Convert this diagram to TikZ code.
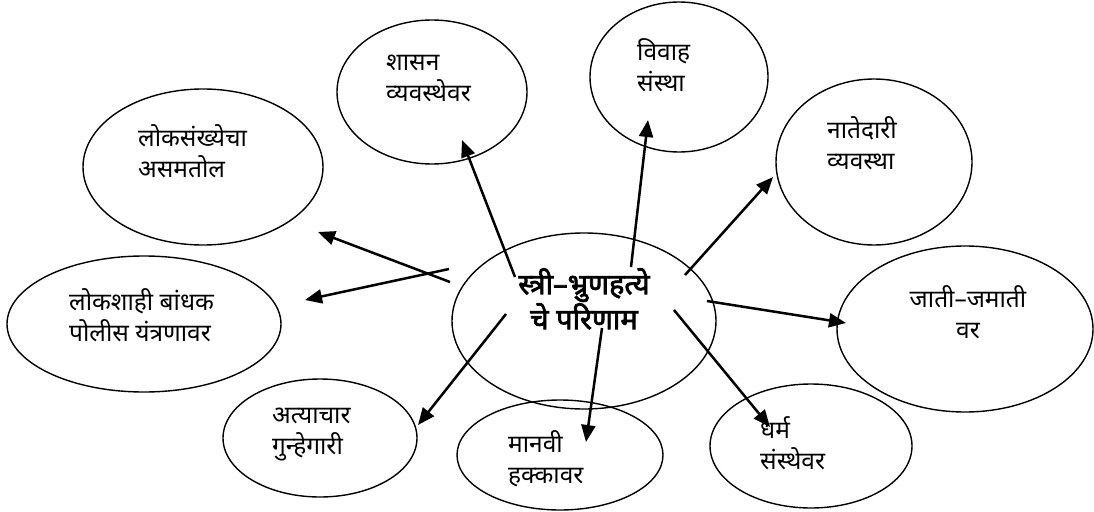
\documentclass[tikz,border=0pt]{standalone}
\usepackage{fontspec}
\newfontfamily\dev[Script=Devanagari]{Noto Sans}
\newfontfamily\devb[Script=Devanagari,FakeBold=2.5]{Noto Sans}
\usetikzlibrary{shapes.geometric,arrows.meta}
\tikzset{
  ell/.style={draw, ellipse, line width=1.4pt, inner sep=0pt},
  lbl/.style={anchor=north west, align=left, inner sep=0pt, font=\dev\fontsize{24.5}{31}\selectfont},
  lblc/.style={anchor=north, align=center, inner sep=0pt, font=\dev\fontsize{24.5}{31}\selectfont},
  ctr/.style={anchor=north, align=center, inner sep=0pt, font=\devb\fontsize{29}{35}\selectfont},
  arr/.style={line width=2.5pt, -{Triangle[length=17pt,width=14pt]}}
}
\begin{document}
\begin{tikzpicture}[x=1pt,y=-1pt]
\useasboundingbox (0,0) rectangle (1094,511);
% ellipses
\node[ell, minimum width=240pt, minimum height=156pt] (e1) at (203,167) {};
\node[ell, minimum width=274pt, minimum height=136pt] (e2) at (144,324) {};
\node[ell, minimum width=190pt, minimum height=144pt] (e3) at (432,92) {};
\node[ell, minimum width=178pt, minimum height=150pt] (e4) at (679,77) {};
\node[ell, minimum width=196pt, minimum height=166pt] (e5) at (874,162) {};
\node[ell, minimum width=256pt, minimum height=166pt] (e6) at (965,329) {};
\node[ell, minimum width=264pt, minimum height=176pt] (c) at (584,321) {};
\node[ell, minimum width=194pt, minimum height=118pt] (e8) at (320,438) {};
\node[ell, minimum width=206pt, minimum height=110pt] (e9) at (560,455) {};
\node[ell, minimum width=202pt, minimum height=124pt] (e10) at (811,446) {};
% texts
\node[lbl] (t1) at (138,124) {लोकसंख्येचा\\असमतोल};
\node[lbl] (t2) at (69,288) {लोकशाही बांधक\\पोलीस यंत्रणावर};
\node[lbl] (t3) at (386,55) {शासन\\व्यवस्थेवर};
\node[lbl] (t4) at (637,38) {विवाह\\संस्था};
\node[lbl] (t5) at (827,116) {नातेदारी\\व्यवस्था};
\node[lblc] (t6) at (968,285) {जाती–जमाती\\वर};
\node[ctr] (tc) at (584,268) {स्त्री–भ्रुणहत्ये\\चे परिणाम};
\node[lbl] (t8) at (272,408) {अत्याचार\\गुन्हेगारी};
\node[lbl] (t9) at (508,430) {मानवी\\हक्कावर};
\node[lbl] (t10) at (760,416) {धर्म\\संस्थेवर};
% arrow endpoints
\coordinate (s1) at (450,282); \coordinate (d1) at (318,232);
\coordinate (s2) at (449,269); \coordinate (d2) at (305,300);
\coordinate (s3) at (515,277); \coordinate (d3) at (462,140);
\coordinate (s4) at (631,267); \coordinate (d4) at (648,120);
\coordinate (s5) at (685,275); \coordinate (d5) at (773,177);
\coordinate (s6) at (707,301); \coordinate (d6) at (846,323);
\coordinate (s7) at (674,310); \coordinate (d7) at (770,427);
\coordinate (s8) at (602,328); \coordinate (d8) at (586,442);
\coordinate (s9) at (506,314); \coordinate (d9) at (418,425);
\draw[arr] (s1) -- (d1);
\draw[arr] (s2) -- (d2);
\draw[arr] (s3) -- (d3);
\draw[arr] (s4) -- (d4);
\draw[arr] (s5) -- (d5);
\draw[arr] (s6) -- (d6);
\draw[arr] (s7) -- (d7);
\draw[arr] (s8) -- (d8);
\draw[arr] (s9) -- (d9);
\end{tikzpicture}
\end{document}
